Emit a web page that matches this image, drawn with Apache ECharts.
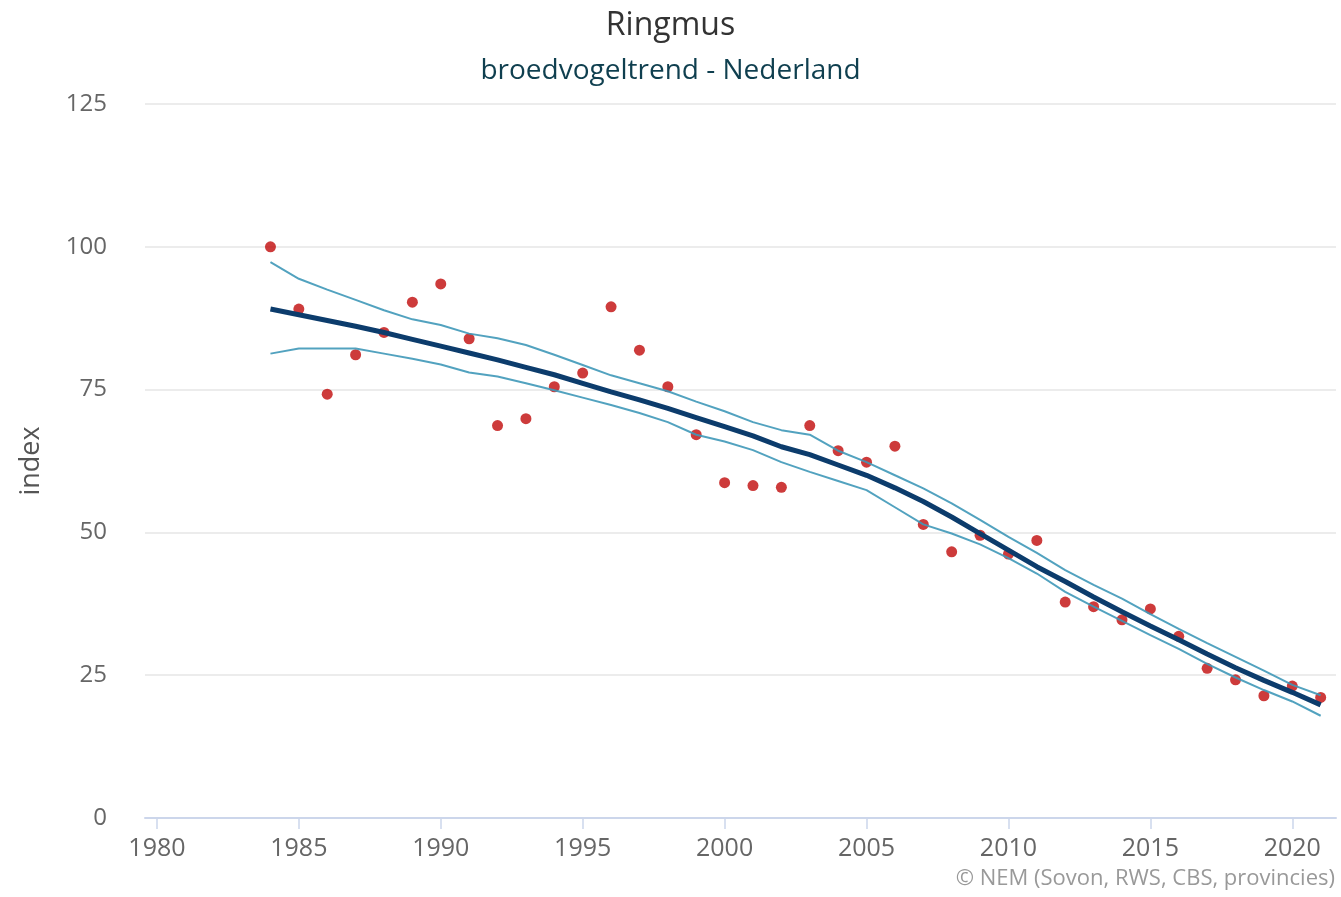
<!DOCTYPE html>
<html>
<head>
<meta charset="utf-8">
<title>Ringmus</title>
<script src="https://cdn.jsdelivr.net/npm/echarts@6/dist/echarts.min.js"></script>
<style>
  html, body { margin: 0; padding: 0; background: #fff; }
  #main { width: 1341px; height: 897px; }
</style>
</head>
<body>
<div id="main"></div>
<script>
// jaren
var years = [1984, 1985, 1986, 1987, 1988, 1989, 1990, 1991, 1992, 1993,
  1994, 1995, 1996, 1997, 1998, 1999, 2000, 2001, 2002, 2003,
  2004, 2005, 2006, 2007, 2008, 2009, 2010, 2011, 2012, 2013,
  2014, 2015, 2016, 2017, 2018, 2019, 2020, 2021];

// jaarindex (punten)
var indexValues = [100.0, 89.1, 74.2, 81.1, 85.0, 90.3, 93.5, 83.9, 68.7, 69.9,
  75.5, 77.9, 89.5, 81.9, 75.5, 67.1, 58.7, 58.2, 57.9, 68.7,
  64.3, 62.3, 65.1, 51.4, 46.6, 49.5, 46.2, 48.6, 37.8, 37.0,
  34.7, 36.6, 31.8, 26.2, 24.2, 21.4, 23.1, 21.1];

// trendlijn
var trendValues = [89.1, 88.1, 87.1, 86.1, 85.0, 83.8, 82.6, 81.4, 80.2, 78.9,
  77.6, 76.1, 74.6, 73.2, 71.7, 70.1, 68.5, 66.9, 65.0, 63.6,
  61.8, 60.0, 57.8, 55.4, 52.7, 49.8, 46.9, 44.0, 41.4, 38.7,
  36.1, 33.6, 31.2, 28.7, 26.3, 24.1, 22.0, 19.8];

// betrouwbaarheidsgrenzen
var upperValues = [97.3, 94.4, 92.5, 90.7, 88.9, 87.3, 86.3, 84.8, 84.0, 82.8,
  81.1, 79.3, 77.5, 76.1, 74.7, 72.9, 71.2, 69.3, 67.9, 67.1,
  64.3, 62.3, 60.0, 57.7, 55.1, 52.2, 49.2, 46.4, 43.4, 40.8,
  38.4, 35.7, 33.1, 30.6, 28.2, 25.8, 23.3, 21.5];
var lowerValues = [81.3, 82.2, 82.2, 82.2, 81.3, 80.4, 79.4, 78.0, 77.3, 76.1,
  74.9, 73.6, 72.3, 70.9, 69.3, 67.1, 65.9, 64.4, 62.3, 60.6,
  59.0, 57.4, 54.4, 51.4, 49.8, 47.9, 45.5, 42.8, 39.6, 37.0,
  34.5, 32.0, 29.6, 27.0, 24.6, 22.4, 20.4, 17.9];

// as-labels
var xTickLabels = [1980, 1985, 1990, 1995, 2000, 2005, 2010, 2015, 2020];

function pairs(vals) {
  return years.map(function (y, i) { return [y, vals[i]]; });
}

(function () {
  var myChart = echarts.init(document.getElementById('main'));
  var font = '"Open Sans", "Noto Sans", sans-serif';

  var option = {
    animation: false,
    backgroundColor: '#fff',
    title: {
      text: 'Ringmus',
      subtext: 'broedvogeltrend - Nederland',
      left: 'center',
      top: 5,
      itemGap: 15,
      textStyle: { fontFamily: font, fontSize: 32, fontWeight: 'normal', color: '#333333' },
      subtextStyle: { fontFamily: font, fontSize: 28, color: '#0f3f4f' }
    },
    grid: {
      left: 145,
      right: 5,
      top: 104,
      bottom: 79,
      containLabel: false
    },
    xAxis: {
      type: 'value',
      min: 1979.58,
      max: 2021.54,
      axisLine: { show: true, lineStyle: { color: '#ccd6eb', width: 2 } },
      axisTick: {
        show: true,
        length: 11,
        customValues: xTickLabels,
        lineStyle: { color: '#ccd6eb', width: 1.5 }
      },
      axisLabel: {
        customValues: xTickLabels,
        formatter: function (v) { return String(v); },
        color: '#666666',
        fontFamily: font,
        fontSize: 25,
        margin: 18
      },
      splitLine: { show: false }
    },
    yAxis: {
      type: 'value',
      min: 0,
      max: 125,
      interval: 25,
      name: 'index',
      nameLocation: 'middle',
      nameGap: 100,
      nameTextStyle: { fontFamily: font, fontSize: 27, color: '#555555' },
      axisLine: { show: false },
      axisTick: { show: false },
      axisLabel: {
        color: '#666666',
        fontFamily: font,
        fontSize: 24,
        margin: 38
      },
      splitLine: { lineStyle: { color: '#e6e6e6', width: 1.5 } }
    },
    series: [
      {
        name: 'index',
        type: 'scatter',
        data: pairs(indexValues),
        symbol: 'circle',
        symbolSize: 11,
        itemStyle: { color: '#c00a0a' },
        z: 2
      },
      {
        name: 'bovengrens',
        type: 'line',
        data: pairs(upperValues),
        showSymbol: false,
        lineStyle: { color: '#3f98b8', width: 2, opacity: 0.9 },
        z: 3
      },
      {
        name: 'ondergrens',
        type: 'line',
        data: pairs(lowerValues),
        showSymbol: false,
        lineStyle: { color: '#3f98b8', width: 2, opacity: 0.9 },
        z: 3
      },
      {
        name: 'trend',
        type: 'line',
        data: pairs(trendValues),
        showSymbol: false,
        lineStyle: { color: '#0c3c6c', width: 5 },
        z: 4
      }
    ],
    graphic: [
      {
        type: 'text',
        right: 6,
        top: 868,
        style: {
          text: '© NEM (Sovon, RWS, CBS, provincies)',
          fill: '#999999',
          font: '22px "Open Sans", "Noto Sans", sans-serif'
        }
      }
    ]
  };

  myChart.setOption(option);

  window.addEventListener('resize', function () {
    myChart.resize();
  });
})();
</script>
</body>
</html>
